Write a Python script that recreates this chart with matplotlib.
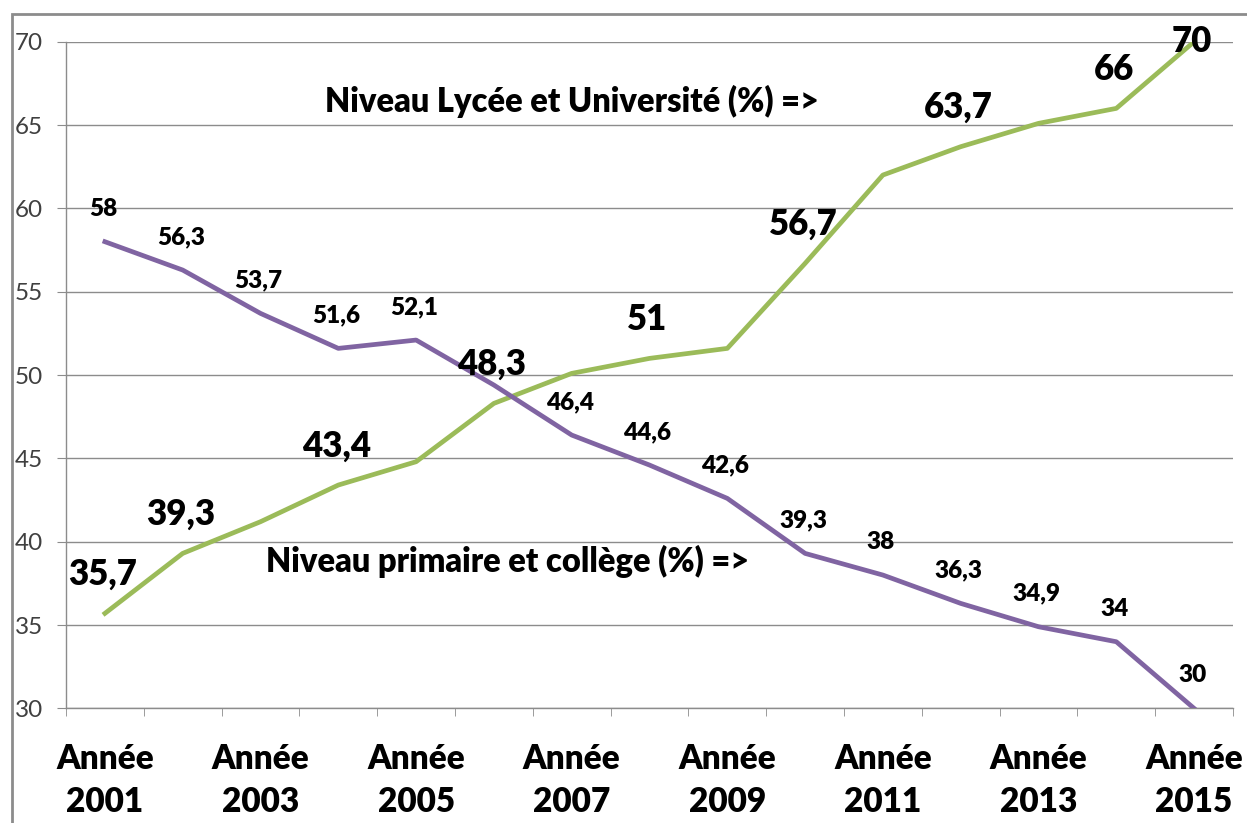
import numpy as np
import matplotlib.pyplot as plt
from matplotlib.patches import Rectangle

# data
years = list(range(2001, 2016))
lycee = [35.7, 39.3, 41.2, 43.4, 44.8, 48.3, 50.1, 51.0, 51.6, 56.7, 62.0, 63.7, 65.1, 66.0, 70.0]
primaire = [58.0, 56.3, 53.7, 51.6, 52.1, 49.4, 46.4, 44.6, 42.6, 39.3, 38.0, 36.3, 34.9, 34.0, 30.0]
# which points carry a label
lycee_lab = {0: "35,7", 1: "39,3", 3: "43,4", 5: "48,3", 7: "51", 9: "56,7", 11: "63,7", 13: "66", 14: "70"}
prim_lab = {0: "58", 1: "56,3", 2: "53,7", 3: "51,6", 4: "52,1", 6: "46,4", 7: "44,6", 8: "42,6",
            9: "39,3", 10: "38", 11: "36,3", 12: "34,9", 13: "34", 14: "30"}

GREEN = "#9bbb59"
PURPLE = "#8064a2"
GRAY = "#8c8c8c"
FONT = "Lato"
W = 'heavy'

plt.rcParams['font.family'] = [FONT, 'DejaVu Sans']

fig = plt.figure(figsize=(12.47, 8.23), dpi=100)
ax = fig.add_axes([66/1247, 1-708.4/823, (1233-66)/1247, (708.4-41.7)/823])

x = np.arange(len(years))
ax.plot(x, lycee, color=GREEN, lw=3.4, solid_joinstyle='round', zorder=3)
ax.plot(x, primaire, color=PURPLE, lw=3.4, solid_joinstyle='round', zorder=3)

# data labels (offsets in pixels)
for i, t in lycee_lab.items():
    dx, dy = (-2, 39)
    if i == 14:
        dx, dy = (-2, 0)
    ax.annotate(t, (x[i], lycee[i]), xytext=(dx, dy), textcoords='offset pixels',
                ha='center', va='center', fontsize=25, fontweight=W, color='black', zorder=4)
for i, t in prim_lab.items():
    ax.annotate(t, (x[i], primaire[i]), xytext=(-2, 33), textcoords='offset pixels',
                ha='center', va='center', fontsize=17.5, fontweight=W, color='black', zorder=4)

ax.text(6.0, 66.4, "Niveau Lycée et Université (%) =>", ha='center', va='center',
        fontsize=23.5, fontweight=W)
ax.text(5.17, 38.8, "Niveau primaire et collège (%) =>", ha='center', va='center',
        fontsize=23.5, fontweight=W)

ax.set_xlim(-0.5, len(years) - 0.5)
ax.set_ylim(30, 70)
ax.set_yticks(np.arange(30, 71, 5))
ax.grid(axis='y', color=GRAY, lw=1)
ax.set_axisbelow(True)

ax.set_xticks(x[::2])
ax.set_xticklabels(["Année\n%d" % y for y in years[::2]], fontsize=24, fontweight=W,
                   linespacing=1.42)
ax.set_xticks(np.arange(-0.5, len(years)), minor=True)
ax.tick_params(axis='x', which='major', length=0, pad=25)
ax.tick_params(axis='x', which='minor', length=6, color=GRAY, direction='out')
ax.tick_params(axis='y', length=6.5, color=GRAY, labelsize=17.5, labelcolor='#404040', pad=10)

for s in ['top', 'right']:
    ax.spines[s].set_visible(False)
for s in ['left', 'bottom']:
    ax.spines[s].set_color(GRAY)
    ax.spines[s].set_linewidth(1)

# outer chart frame
fig.patches.append(Rectangle((11.5/1247, -0.05), 1.2, 1-14/823+0.05, transform=fig.transFigure,
                             fill=False, ec=GRAY, lw=2))

fig.savefig("out.png", dpi=100)
